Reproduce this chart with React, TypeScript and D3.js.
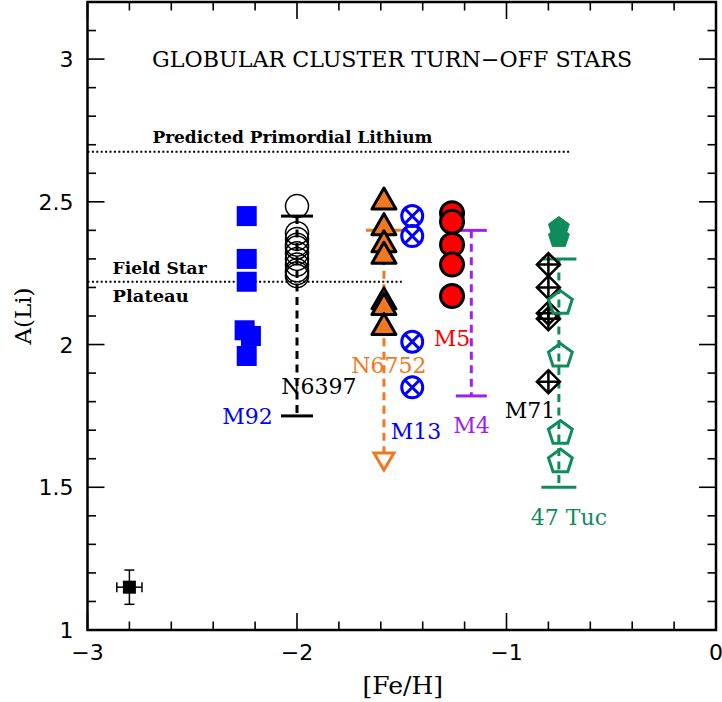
import { scaleLinear, range } from 'd3'

// [Fe/H] and A(Li) for each cluster
const m92 = [
  { x: -2.24, y: 2.45 },
  { x: -2.24, y: 2.30 },
  { x: -2.24, y: 2.22 },
  { x: -2.25, y: 2.05 },
  { x: -2.22, y: 2.03 },
  { x: -2.24, y: 1.96 },
]
const n6397X = -2.0
const n6397Li = [2.485, 2.39, 2.37, 2.35, 2.34, 2.32, 2.30, 2.28, 2.26, 2.25, 2.24]
const n6752X = -1.585
const n6752Li = [2.51, 2.42, 2.36, 2.32, 2.16, 2.14, 2.07]
const m13X = -1.45
const m13Li = [2.45, 2.38, 2.01, 1.85]
const m5X = -1.26
const m5Li = [2.46, 2.43, 2.35, 2.28, 2.17]
const m71X = -0.80
const m71Li = [2.28, 2.20, 2.11, 2.09, 1.87]
const tucX = -0.75
const tucFilledLi = [2.41, 2.375]
const tucOpenLi = [2.145, 1.96, 1.69, 1.59]

// range bars: x, top, bottom, colour, cap half-width (px)
const ranges = [
  { x: n6397X, top: 2.45, bottom: 1.75, color: '#000000', cap: 16, bottomCap: true },
  { x: n6752X, top: 2.40, bottom: 1.62, color: '#f07820', cap: 18, bottomCap: false },
  { x: -1.168, top: 2.40, bottom: 1.82, color: '#a020f0', cap: 15.5, bottomCap: true },
  { x: tucX, top: 2.30, bottom: 1.50, color: '#108c5c', cap: 17.5, bottomCap: true },
]
const n6752Limit = 1.59

const errPoint = { x: -2.80, y: 1.15, dx: 0.06, dy: 0.06 }

const primordialLi = 2.675
const primordialEnd = -0.70
const plateauLi = 2.22
const plateauEnd = -1.50

const clusterLabels = [
  { text: 'M92', x: -2.236, y: 1.75, color: '#0000ff' },
  { text: 'N6397', x: -1.895, y: 1.855, color: '#000000' },
  { text: 'N6752', x: -1.561, y: 1.928, color: '#f07820' },
  { text: 'M13', x: -1.432, y: 1.697, color: '#0000ff' },
  { text: 'M5', x: -1.26, y: 2.023, color: '#ff0000' },
  { text: 'M4', x: -1.167, y: 1.718, color: '#a020f0' },
  { text: 'M71', x: -0.888, y: 1.771, color: '#000000' },
  { text: '47 Tuc', x: -0.702, y: 1.396, color: '#108c5c' },
]

const xMajor = [-3, -2, -1, 0]
const yMajor = [1, 1.5, 2, 2.5, 3]

const W = 722
const H = 702
const margin = { left: 87.5, right: 6, top: 2, bottom: 72 }

const pentagon = (r: number) =>
  range(5)
    .map(k => {
      const a = (-90 + 72 * k) * Math.PI / 180
      return `${k === 0 ? 'M' : 'L'}${r * Math.cos(a)},${r * Math.sin(a)}`
    })
    .join('') + 'Z'

const App = () => {
  const xScale = scaleLinear().domain([-3, 0]).range([margin.left, W - margin.right])
  const yScale = scaleLinear().domain([1, 3.2]).range([H - margin.bottom, margin.top])
  const [x0, x1] = xScale.range()
  const [y0, y1] = yScale.range()

  const xMinor = range(-3, 0.001, 0.2)
  const yMinor = range(1, 3.2001, 0.1)
  const serif = '"DejaVu Serif", serif'
  const sans = '"DejaVu Sans", sans-serif'

  return (
    <svg width={W} height={H} style={{ position: 'absolute', left: 0, top: 0 }}>
      <rect x={0} y={0} width={W} height={H} fill="white" />

      {/* ticks on all four sides */}
      <g stroke="black" strokeWidth={1.6}>
        {xMinor.map(v => {
          const major = xMajor.some(m => Math.abs(m - v) < 1e-6)
          const len = major ? 17 : 8.5
          return (
            <g key={'xt' + v}>
              <line x1={xScale(v)} x2={xScale(v)} y1={y0} y2={y0 - len} />
              <line x1={xScale(v)} x2={xScale(v)} y1={y1} y2={y1 + len} />
            </g>
          )
        })}
        {yMinor.map(v => {
          const major = yMajor.some(m => Math.abs(m - v) < 1e-6)
          const len = major ? 17 : 8.5
          return (
            <g key={'yt' + v}>
              <line x1={x0} x2={x0 + len} y1={yScale(v)} y2={yScale(v)} />
              <line x1={x1} x2={x1 - len} y1={yScale(v)} y2={yScale(v)} />
            </g>
          )
        })}
      </g>
      <rect x={x0} y={y1} width={x1 - x0} height={y0 - y1} fill="none" stroke="black" strokeWidth={2.5} />

      {/* tick labels */}
      <g fontFamily={sans} fontSize={22} fill="black">
        {xMajor.map(v => (
          <text key={'xl' + v} x={xScale(v)} y={y0 + 30} textAnchor="middle">
            {v < 0 ? '\u2212' + Math.abs(v) : v}
          </text>
        ))}
        {yMajor.map(v => (
          <text key={'yl' + v} x={x0 - 14} y={yScale(v) + 8} textAnchor="end">{v}</text>
        ))}
      </g>
      <text x={(x0 + x1) / 2 + 1} y={H - 8} textAnchor="middle" fontFamily={serif} fontSize={25}>[Fe/H]</text>
      <text transform={`translate(31, ${yScale(2.1)}) rotate(-90)`} textAnchor="middle" fontFamily={serif} fontSize={23}>A(Li)</text>

      {/* title and reference lines */}
      <text x={xScale(-1.546)} y={yScale(3) + 8} textAnchor="middle" fontFamily={serif} fontSize={22}
        textLength={480} lengthAdjust="spacingAndGlyphs">GLOBULAR CLUSTER TURN{'\u2212'}OFF STARS</text>
      <line x1={x0} x2={xScale(primordialEnd)} y1={yScale(primordialLi)} y2={yScale(primordialLi)}
        stroke="black" strokeWidth={2} strokeDasharray="2 2.4" />
      <text x={xScale(-2.69)} y={yScale(primordialLi) - 9} fontFamily={serif} fontWeight="bold" fontSize={16}
        textLength={280} lengthAdjust="spacingAndGlyphs">Predicted Primordial Lithium</text>
      <line x1={x0} x2={xScale(plateauEnd)} y1={yScale(plateauLi)} y2={yScale(plateauLi)}
        stroke="black" strokeWidth={2} strokeDasharray="2 2.4" />
      <text x={xScale(-2.88)} y={yScale(plateauLi) - 8} fontFamily={serif} fontWeight="bold" fontSize={16}
        textLength={94} lengthAdjust="spacingAndGlyphs">Field Star</text>
      <text x={xScale(-2.88)} y={yScale(plateauLi) + 20} fontFamily={serif} fontWeight="bold" fontSize={16}
        textLength={76} lengthAdjust="spacingAndGlyphs">Plateau</text>

      {/* range bars */}
      {ranges.map((r, i) => {
        const cx = xScale(r.x)
        return (
          <g key={'r' + i} stroke={r.color} strokeWidth={3}>
            <line x1={cx} x2={cx} y1={yScale(r.top)} y2={yScale(r.bottom)} strokeDasharray="8 5.5" />
            <line x1={cx - r.cap} x2={cx + r.cap} y1={yScale(r.top)} y2={yScale(r.top)} />
            {r.bottomCap && <line x1={cx - r.cap} x2={cx + r.cap} y1={yScale(r.bottom)} y2={yScale(r.bottom)} />}
          </g>
        )
      })}
      {/* N6752 upper limit */}
      <path transform={`translate(${xScale(n6752X)}, ${yScale(n6752Limit)})`} d="M-10,-8.5L10,-8.5L0,8.5Z"
        fill="white" stroke="#f07820" strokeWidth={3} strokeLinejoin="miter" />

      {/* M92 */}
      {m92.map((d, i) => (
        <rect key={'m92' + i} x={xScale(d.x) - 10} y={yScale(d.y) - 10} width={20} height={20} fill="#0000ff" />
      ))}

      {/* N6397 */}
      {n6397Li.map((v, i) => (
        <circle key={'n63' + i} cx={xScale(n6397X)} cy={yScale(v)} r={11.5} fill="none" stroke="black" strokeWidth={1.5} />
      ))}

      {/* N6752 */}
      {n6752Li.map((v, i) => (
        <path key={'n67' + i} transform={`translate(${xScale(n6752X)}, ${yScale(v)})`} d="M0,-11L12,10L-12,10Z"
          fill="#f07820" stroke="black" strokeWidth={3} strokeLinejoin="round" />
      ))}

      {/* M13 */}
      {m13Li.map((v, i) => (
        <g key={'m13' + i} transform={`translate(${xScale(m13X)}, ${yScale(v)})`} stroke="#0000ff" strokeWidth={3} fill="none">
          <circle r={10.5} />
          <path d="M-7.4,-7.4L7.4,7.4M-7.4,7.4L7.4,-7.4" />
        </g>
      ))}

      {/* M5 */}
      {m5Li.map((v, i) => (
        <circle key={'m5' + i} cx={xScale(m5X)} cy={yScale(v)} r={11.5} fill="#ff0000" stroke="black" strokeWidth={3} />
      ))}

      {/* M71 */}
      {m71Li.map((v, i) => (
        <g key={'m71' + i} transform={`translate(${xScale(m71X)}, ${yScale(v)})`} stroke="black" strokeWidth={2.5} fill="none">
          <path d="M0,-11.5L11.5,0L0,11.5L-11.5,0Z" />
          <path d="M0,-11.5L0,11.5M-11.5,0L11.5,0" />
        </g>
      ))}

      {/* 47 Tuc */}
      {tucOpenLi.map((v, i) => (
        <path key={'to' + i} transform={`translate(${xScale(tucX) + 1.5}, ${yScale(v)})`} d={pentagon(12.5)}
          fill="none" stroke="#108c5c" strokeWidth={3} />
      ))}
      {tucFilledLi.map((v, i) => (
        <path key={'tf' + i} transform={`translate(${xScale(tucX)}, ${yScale(v)})`} d={pentagon(11)}
          fill="#108c5c" stroke="#108c5c" strokeWidth={1} />
      ))}

      {/* representative error bar */}
      <g stroke="black" strokeWidth={1.5}>
        <line x1={xScale(errPoint.x - errPoint.dx)} x2={xScale(errPoint.x + errPoint.dx)} y1={yScale(errPoint.y)} y2={yScale(errPoint.y)} />
        <line x1={xScale(errPoint.x)} x2={xScale(errPoint.x)} y1={yScale(errPoint.y - errPoint.dy)} y2={yScale(errPoint.y + errPoint.dy)} />
        <line x1={xScale(errPoint.x - errPoint.dx)} x2={xScale(errPoint.x - errPoint.dx)} y1={yScale(errPoint.y) - 5} y2={yScale(errPoint.y) + 5} />
        <line x1={xScale(errPoint.x + errPoint.dx)} x2={xScale(errPoint.x + errPoint.dx)} y1={yScale(errPoint.y) - 5} y2={yScale(errPoint.y) + 5} />
        <line x1={xScale(errPoint.x) - 5} x2={xScale(errPoint.x) + 5} y1={yScale(errPoint.y - errPoint.dy)} y2={yScale(errPoint.y - errPoint.dy)} />
        <line x1={xScale(errPoint.x) - 5} x2={xScale(errPoint.x) + 5} y1={yScale(errPoint.y + errPoint.dy)} y2={yScale(errPoint.y + errPoint.dy)} />
      </g>
      <rect x={xScale(errPoint.x) - 6.5} y={yScale(errPoint.y) - 6.5} width={13} height={13} fill="black" />

      {/* cluster labels */}
      <g fontFamily={serif} fontSize={22}>
        {clusterLabels.map(l => (
          <text key={l.text} x={xScale(l.x)} y={yScale(l.y) + 8} textAnchor="middle" fill={l.color}>{l.text}</text>
        ))}
      </g>
    </svg>
  )
}

export default App
